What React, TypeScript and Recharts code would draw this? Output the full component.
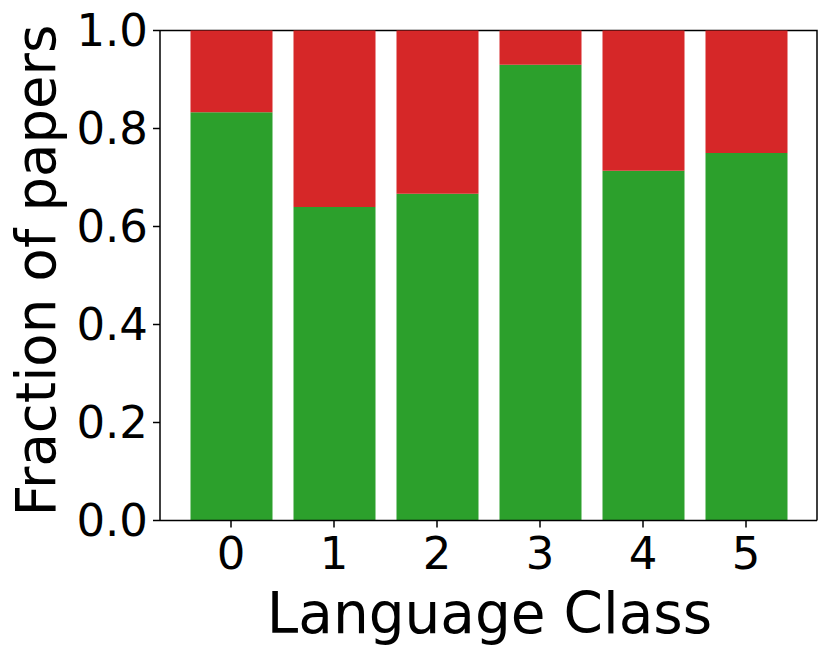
import React from 'react';
import { BarChart, Bar, XAxis, YAxis, usePlotArea } from 'recharts';

const languageClasses = ['0', '1', '2', '3', '4', '5'];
const acceptedFraction = [0.833, 0.64, 0.667, 0.93, 0.714, 0.75];
const rejectedFraction = [0.167, 0.36, 0.333, 0.07, 0.286, 0.25];
const yTicks = [0, 0.2, 0.4, 0.6, 0.8, 1.0];

const data = languageClasses.map((name, i) => ({
  name,
  accepted: acceptedFraction[i],
  rejected: rejectedFraction[i],
}));

const FONT = '"DejaVu Sans", sans-serif';
const spine = { stroke: '#000', strokeWidth: 1.5 };

// top + right spines (matplotlib box)
const Frame = () => {
  const area = usePlotArea ? usePlotArea() : null;
  if (!area) return null;
  const { x, y, width, height } = area;
  return (
    <path
      d={`M${x},${y} L${x + width},${y} L${x + width},${y + height}`}
      fill="none"
      stroke="#000"
      strokeWidth={1.5}
    />
  );
};

const YLabel = (props: any) => {
  const { viewBox } = props;
  const cy = viewBox.y + viewBox.height / 2 - 5;
  return (
    <text
      x={55}
      y={cy}
      transform={`rotate(-90, 55, ${cy})`}
      textAnchor="middle"
      fontSize={54.5}
      fontFamily={FONT}
      fill="#000"
    >
      Fraction of papers
    </text>
  );
};

const XLabel = (props: any) => {
  const { viewBox } = props;
  const cx = viewBox.x + viewBox.width / 2 + 1;
  return (
    <text x={cx} y={633} textAnchor="middle" fontSize={56.5} fontFamily={FONT} fill="#000">
      Language Class
    </text>
  );
};

export default function App() {
  return (
    <div style={{ position: 'absolute', left: 0, top: 0, background: '#fff', fontFamily: FONT }}>
      <BarChart
        width={831}
        height={656}
        data={data}
        margin={{ top: 30.5, right: 14, left: 0, bottom: 0 }}
      >
        <XAxis
          dataKey="name"
          height={135.5}
          padding={{ left: 19.5, right: 19.5 }}
          tickSize={7}
          tickMargin={10}
          tickLine={spine}
          axisLine={spine}
          tick={{ fill: '#000', fontSize: 45, fontFamily: FONT }}
          label={<XLabel />}
        />
        <YAxis
          width={160}
          domain={[0, 1]}
          ticks={yTicks}
          tickFormatter={(v: number) => v.toFixed(1)}
          tickSize={7}
          tickMargin={5}
          tickLine={spine}
          axisLine={spine}
          tick={{ fill: '#000', fontSize: 45, fontFamily: FONT }}
          label={<YLabel />}
        />
        <Bar dataKey="accepted" stackId="a" fill="#2ca02c" barSize={82} isAnimationActive={false} />
        <Bar dataKey="rejected" stackId="a" fill="#d62728" barSize={82} isAnimationActive={false} />
        <Frame />
      </BarChart>
    </div>
  );
}
